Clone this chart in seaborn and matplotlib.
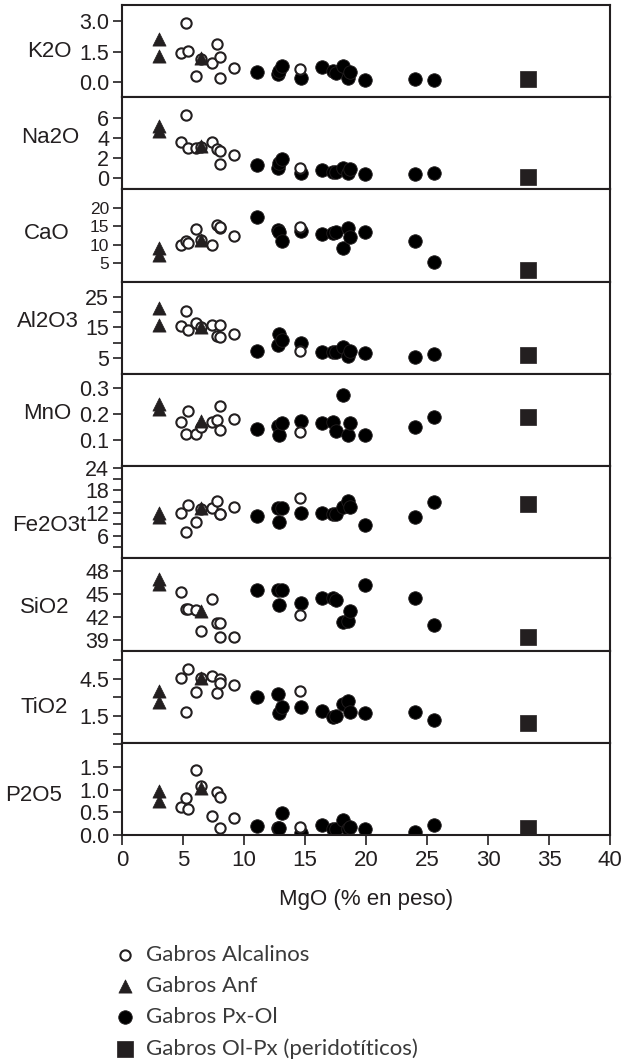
import numpy as np
import pandas as pd
import matplotlib
matplotlib.use('Agg')
import matplotlib.pyplot as plt
import seaborn as sns

# --- Data ---
oxides = ['K2O', 'Na2O', 'CaO', 'Al2O3', 'MnO', 'Fe2O3t', 'SiO2', 'TiO2', 'P2O5']

# Gabros Alcalinos (open circles)
alc_mgo = [4.8, 5.2, 5.4, 6.1, 6.5, 7.4, 7.8, 8.0, 8.0, 9.2, 14.6]
alc_k2o = [1.43, 2.93, 1.52, 0.28, 1.15, 0.92, 1.88, 1.22, 0.22, 0.68, 0.63]
alc_na2o = [3.6, 6.29, 3.02, 3.02, 3.1, 3.67, 2.95, 2.69, 1.47, 2.29, 1.05]
alc_cao = [10.0, 10.9, 10.6, 14.3, 11.2, 10.0, 15.4, 14.5, 14.8, 12.4, 14.8]
alc_al2o3 = [15.5, 20.4, 14.1, 16.3, 15.0, 15.7, 12.2, 15.7, 11.9, 12.8, 7.5]
alc_mno = [0.17, 0.123, 0.211, 0.123, 0.15, 0.17, 0.176, 0.23, 0.138, 0.18, 0.13]
alc_fe2o3 = [12.1, 6.9, 14.1, 9.5, 13.0, 13.2, 15.2, 11.7, 11.7, 13.7, 15.9]
alc_sio2 = [45.2, 43.0, 43.0, 42.9, 40.2, 44.3, 41.2, 41.2, 39.4, 39.4, 42.2]
alc_tio2 = [4.55, 1.83, 5.32, 3.46, 4.6, 4.77, 3.36, 4.5, 4.14, 4.03, 3.54]
alc_p2o5 = [0.62, 0.82, 0.57, 1.43, 1.07, 0.42, 0.95, 0.84, 0.16, 0.37, 0.18]

# Gabros Anf (triangles)
anf_mgo = [3.0, 3.0, 6.5]
anf_k2o = [2.13, 1.3, 1.18]
anf_na2o = [5.2, 4.7, 3.2]
anf_cao = [9.1, 7.3, 11.4]
anf_al2o3 = [21.2, 15.7, 15.2]
anf_mno = [0.237, 0.218, 0.173]
anf_fe2o3 = [12.1, 11.0, 13.2]
anf_sio2 = [46.9, 46.3, 42.7]
anf_tio2 = [3.54, 2.59, 4.55]
anf_p2o5 = [0.96, 0.75, 1.04]

# Gabros Px-Ol (filled circles)
pxol_mgo = [11.1, 12.8, 12.9, 13.1, 14.7, 16.4, 17.3, 17.5, 18.1, 18.5, 18.7, 19.9, 24.0, 25.6]
pxol_k2o = [0.47, 0.38, 0.55, 0.8, 0.22, 0.72, 0.55, 0.42, 0.8, 0.22, 0.47, 0.08, 0.17, 0.1]
pxol_na2o = [1.31, 1.05, 1.5, 1.94, 0.49, 0.88, 0.66, 0.66, 1.05, 0.49, 0.98, 0.39, 0.39, 0.56]
pxol_cao = [17.5, 14.1, 13.5, 10.9, 13.6, 13.0, 13.2, 13.46, 9.1, 14.5, 12.0, 13.35, 11.1, 5.45]
pxol_al2o3 = [7.5, 9.2, 13.0, 11.0, 10.0, 7.0, 7.0, 7.0, 8.6, 5.9, 7.5, 6.8, 5.3, 6.4]
pxol_mno = [0.142, 0.154, 0.12, 0.163, 0.173, 0.163, 0.167, 0.135, 0.271, 0.119, 0.163, 0.12, 0.148, 0.189]
pxol_fe2o3 = [11.3, 13.2, 9.5, 13.2, 12.1, 11.9, 11.7, 11.7, 13.7, 15.2, 13.5, 8.8, 11.0, 15.0]
pxol_sio2 = [45.5, 45.5, 43.5, 45.5, 43.8, 44.5, 44.5, 44.2, 41.3, 41.4, 42.7, 46.1, 44.5, 40.9]
pxol_tio2 = [3.0, 3.27, 1.72, 2.18, 2.24, 1.91, 1.36, 1.5, 2.46, 2.73, 1.83, 1.69, 1.77, 1.15]
pxol_p2o5 = [0.2, 0.16, 0.16, 0.48, 0.05, 0.22, 0.13, 0.13, 0.33, 0.13, 0.18, 0.13, 0.07, 0.23]

# Gabros Ol-Px (peridotíticos) (square)
olpx_mgo = [33.3]
olpx_k2o = [0.17]
olpx_na2o = [0.13]
olpx_cao = [3.2]
olpx_al2o3 = [6.1]
olpx_mno = [0.186]
olpx_fe2o3 = [14.4]
olpx_sio2 = [39.4]
olpx_tio2 = [0.87]
olpx_p2o5 = [0.16]

# y ticks per panel ('' = unlabelled tick)
ticks = {
    'K2O': ([0.0, 1.5, 3.0], ['0.0', '1.5', '3.0']),
    'Na2O': ([0, 2, 4, 6], ['0', '2', '4', '6']),
    'CaO': ([5, 10, 15, 20], ['5', '10', '15', '20']),
    'Al2O3': ([5, 10, 15, 20, 25], ['5', '', '15', '', '25']),
    'MnO': ([0.1, 0.2, 0.3], ['0.1', '0.2', '0.3']),
    'Fe2O3t': ([3, 6, 9, 12, 15, 18, 21, 24], ['', '6', '', '12', '', '18', '', '24']),
    'SiO2': ([39, 42, 45, 48], ['39', '42', '45', '48']),
    'TiO2': ([0.0, 1.5, 3.0, 4.5, 6.0], ['', '1.5', '', '4.5', '']),
    'P2O5': ([0.0, 0.5, 1.0, 1.5, 2.0], ['0.0', '0.5', '1.0', '1.5', '']),
}
x_ticks = [0, 5, 10, 15, 20, 25, 30, 35, 40]

# --- Long-format table ---
groups = {
    'Gabros Alcalinos': (alc_mgo, [alc_k2o, alc_na2o, alc_cao, alc_al2o3, alc_mno,
                                   alc_fe2o3, alc_sio2, alc_tio2, alc_p2o5]),
    'Gabros Anf': (anf_mgo, [anf_k2o, anf_na2o, anf_cao, anf_al2o3, anf_mno,
                             anf_fe2o3, anf_sio2, anf_tio2, anf_p2o5]),
    'Gabros Px-Ol': (pxol_mgo, [pxol_k2o, pxol_na2o, pxol_cao, pxol_al2o3, pxol_mno,
                                pxol_fe2o3, pxol_sio2, pxol_tio2, pxol_p2o5]),
    'Gabros Ol-Px (peridotíticos)': (olpx_mgo, [olpx_k2o, olpx_na2o, olpx_cao, olpx_al2o3, olpx_mno,
                                                olpx_fe2o3, olpx_sio2, olpx_tio2, olpx_p2o5]),
}
rows = []
for grp, (mgo, vals) in groups.items():
    for ox, v in zip(oxides, vals):
        for m, y in zip(mgo, v):
            rows.append({'group': grp, 'oxide': ox, 'MgO': m, 'value': y})
df = pd.DataFrame(rows)

# --- Style ---
sns.set_theme(style='white')
plt.rcParams['font.family'] = ['Liberation Sans Narrow', 'Liberation Sans', 'DejaVu Sans']
INK = '#231f20'

ylims = {
    'K2O': (-0.75, 3.8), 'Na2O': (-1.1, 8.1), 'CaO': (0, 25), 'Al2O3': (0, 29.8),
    'MnO': (0, 0.352), 'Fe2O3t': (0, 24.4), 'SiO2': (37.6, 49.6), 'TiO2': (-0.7, 6.8),
    'P2O5': (0, 2.03),
}
label_pos = {
    'K2O': (-0.103, 0.495), 'Na2O': (-0.088, 0.56), 'CaO': (-0.107, 0.52),
    'Al2O3': (-0.088, 0.57), 'MnO': (-0.103, 0.57), 'Fe2O3t': (-0.074, 0.36),
    'SiO2': (-0.107, 0.47), 'TiO2': (-0.111, 0.38), 'P2O5': (-0.123, 0.43),
}
# CaO ticks are packed tightly, so those labels get a slightly smaller size
tick_size = {ox: 15.5 for ox in oxides}
tick_size['CaO'] = 12.5

styles = {
    'Gabros Px-Ol': dict(marker='o', s=95, color='black', edgecolor=INK, linewidth=0.6, zorder=2),
    'Gabros Alcalinos': dict(marker='o', s=55, color='white', edgecolor=INK, linewidth=1.5, zorder=3),
    'Gabros Anf': dict(marker='^', s=90, color=INK, edgecolor=INK, linewidth=0.5, zorder=4),
    'Gabros Ol-Px (peridotíticos)': dict(marker='s', s=125, color=INK, edgecolor=INK, linewidth=0.5, zorder=4),
}

fig, axes = plt.subplots(9, 1, figsize=(6.26, 10.59), dpi=100, sharex=True,
                         gridspec_kw={'hspace': 0})
fig.subplots_adjust(left=0.195, right=0.9745, top=0.9953, bottom=0.2115)

for ax, ox in zip(axes, oxides):
    sub = df[df['oxide'] == ox]
    for grp, kw in styles.items():
        d = sub[sub['group'] == grp]
        sns.scatterplot(data=d, x='MgO', y='value', ax=ax, label=grp, legend=False, **kw)
    ax.set_xlim(0, 40)
    ax.set_ylim(*ylims[ox])
    t, tl = ticks[ox]
    ax.set_yticks(t)
    ax.set_yticklabels(tl)
    ax.tick_params(axis='y', direction='out', length=6.3, width=1.2, pad=3,
                   labelsize=tick_size[ox], colors=INK, left=True)
    ax.tick_params(axis='x', bottom=False)
    ax.set_ylabel(ox, rotation=0, ha='right', va='center', fontsize=16, color=INK)
    ax.yaxis.set_label_coords(*label_pos[ox])
    ax.set_xlabel('')
    for sp in ax.spines.values():
        sp.set_color(INK)
        sp.set_linewidth(1.5)

bottom = axes[-1]
bottom.set_xticks(x_ticks)
bottom.tick_params(axis='x', bottom=True, direction='out', length=7, width=1.2,
                   pad=4, labelsize=16, colors=INK)
bottom.set_xlabel('MgO (% en peso)', fontsize=16, color=INK, labelpad=13)

# legend
handles, labels = bottom.get_legend_handles_labels()
order = ['Gabros Alcalinos', 'Gabros Anf', 'Gabros Px-Ol', 'Gabros Ol-Px (peridotíticos)']
hmap = dict(zip(labels, handles))
leg = fig.legend([hmap[k] for k in order], order, loc='upper left',
                 bbox_to_anchor=(114 / 626, 1 - 945 / 1059), frameon=False,
                 prop={'family': ['Lato', 'DejaVu Sans'], 'size': 16},
                 labelspacing=0.5, handletextpad=0.44, handlelength=1.0,
                 borderaxespad=0, borderpad=0)
for txt in leg.get_texts():
    txt.set_color('#3a3a3a')

fig.savefig('out.png', dpi=100)
